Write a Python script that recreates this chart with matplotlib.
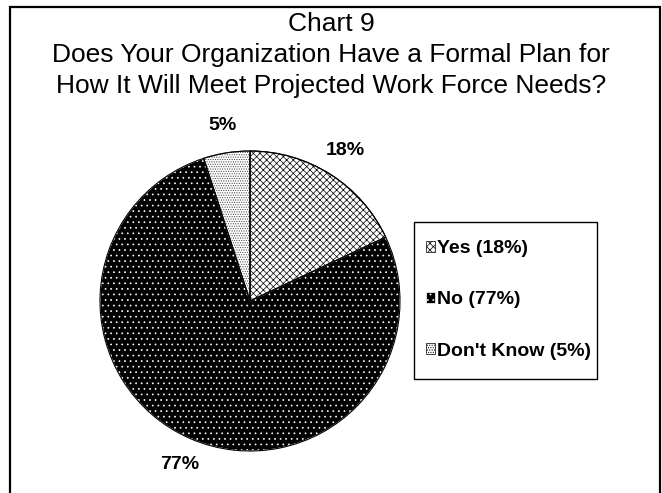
import matplotlib
matplotlib.use("Agg")
import matplotlib.pyplot as plt
from matplotlib.patches import Rectangle, Patch

plt.rcParams['font.family'] = ['Liberation Sans', 'DejaVu Sans']
plt.rcParams['hatch.linewidth'] = 0.5

title = "Chart 9\nDoes Your Organization Have a Formal Plan for\nHow It Will Meet Projected Work Force Needs?"
categories = ["Yes", "No", "Don't Know"]
values = [18, 77, 5]
legend_labels = ["Yes (18%)", "No (77%)", "Don't Know (5%)"]

faces = ["white", "black", "white"]
hatch_colors = ["black", "white", "#444444"]
hatches = ["xxxxx", "...", "......."]

W, H = 662, 493
fig = plt.figure(figsize=(W / 100, H / 100), dpi=100)
fig.patch.set_facecolor("white")

# pie axes: centre (250, 301) px, radius 150 px
ax = fig.add_axes([100 / W, 1 - 451 / H, 300 / W, 300 / H])
wedges, texts, autotexts = ax.pie(
    values, startangle=90, counterclock=False, colors=faces,
    autopct='%1.0f%%', pctdistance=1.185,
    wedgeprops=dict(linewidth=0.8),
    textprops=dict(fontsize=14, fontweight='bold', color='black'))
for w, h, hc in zip(wedges, hatches, hatch_colors):
    w.set_hatch(h)
    w.set_edgecolor(hc)
# outlines
outl, _ = ax.pie(values, startangle=90, counterclock=False,
                 colors=['none'] * 3,
                 wedgeprops=dict(linewidth=0.8, edgecolor='black', fill=False))
ax.set_xlim(-1, 1)
ax.set_ylim(-1, 1)
ax.set_aspect('equal')
ax.axis('off')

# legend (frame drawn separately)
handles = [Patch(facecolor=f, edgecolor='black', hatch=h, linewidth=0.5)
           if f == 'white' else
           Patch(facecolor=f, edgecolor=hc, hatch=h, linewidth=0.5)
           for f, hc, h in zip(faces, hatch_colors, hatches)]
leg = fig.legend(handles, legend_labels, loc='center left',
                 bbox_to_anchor=(426 / W, 1 - 300 / H), borderaxespad=0,
                 prop=dict(size=14, weight='bold'), frameon=False,
                 handlelength=0.45, handleheight=0.45, handletextpad=0.12,
                 labelspacing=1.75, borderpad=0)
fig.add_artist(Rectangle((414 / W, 1 - 379 / H), 183 / W, 157 / H,
                         transform=fig.transFigure, fill=False,
                         edgecolor='black', linewidth=1.0))

# title
fig.text(331 / W, 1 - 12 / H, title, ha='center', va='top', fontsize=19,
         linespacing=1.37)

# outer border
fig.add_artist(Rectangle((10 / W, -0.05), 650 / W, 1.05 - 7 / H,
                         transform=fig.transFigure, fill=False,
                         edgecolor='black', linewidth=1.6))

fig.savefig("out.png", dpi=100)
